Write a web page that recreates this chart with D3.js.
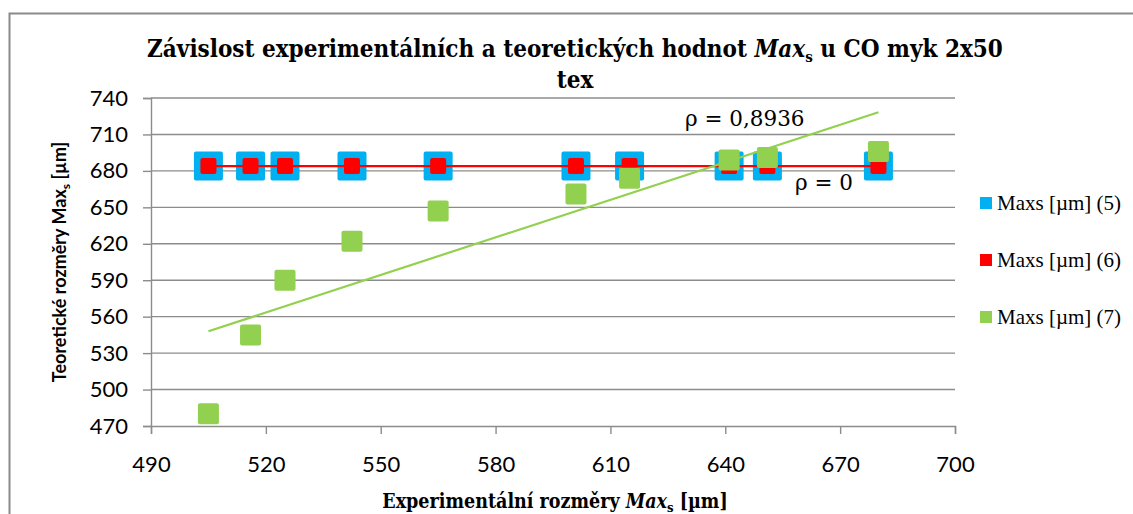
<!DOCTYPE html>
<html>
<head>
<meta charset="utf-8">
<script src="https://cdn.jsdelivr.net/npm/d3@7"></script>
<style>
  html, body { margin: 0; padding: 0; background: #fff; }
  svg { display: block; }
</style>
</head>
<body>
<svg id="chart" width="1133" height="514"></svg>
<script>
// Experimental Max_s values (x) shared by all three series
const experimental = [505, 516, 525, 542.5, 565, 601, 615, 641, 651, 680];
// Theoretical Max_s values for each model
const series5 = [684, 684, 684, 684, 684, 684, 684, 684, 684, 684];
const series6 = [684, 684, 684, 684, 684, 684, 684, 684, 684, 684];
const series7 = [480, 545, 590, 622, 647, 661, 674, 689, 691, 696];
const seriesNames = ["Maxs [µm] (5)", "Maxs [µm] (6)", "Maxs [µm] (7)"];
const xTicks = [490, 520, 550, 580, 610, 640, 670, 700];
const yTicks = [470, 500, 530, 560, 590, 620, 650, 680, 710, 740];
const rhoLabels = ["ρ = 0,8936", "ρ = 0"];

const colors = ["#00B0F0", "#FF0000", "#92D050"];
const svg = d3.select("#chart");

const plot = { left: 151, right: 955, top: 98, bottom: 426 };
const x = d3.scaleLinear().domain([490, 700]).range([plot.left, plot.right]);
const y = d3.scaleLinear().domain([470, 740]).range([plot.bottom, plot.top]);

// chart frame
svg.append("rect")
  .attr("x", 9.5).attr("y", 13.5).attr("width", 1200).attr("height", 600)
  .attr("fill", "#fff").attr("stroke", "#8a8a8a").attr("stroke-width", 2);

// horizontal gridlines
svg.append("g").selectAll("line").data(yTicks.slice(1)).join("line")
  .attr("x1", plot.left).attr("x2", plot.right)
  .attr("y1", d => y(d)).attr("y2", d => y(d))
  .attr("stroke", "#8c8c8c").attr("stroke-width", 1.4);

// axes
const tickFont = "Lato, 'Open Sans', sans-serif";
const xAxis = svg.append("g").attr("transform", `translate(0,${plot.bottom})`)
  .call(d3.axisBottom(x).tickValues(xTicks).tickSize(8).tickPadding(22).tickFormat(d3.format("d")));
const yAxis = svg.append("g").attr("transform", `translate(${plot.left},0)`)
  .call(d3.axisLeft(y).tickValues(yTicks).tickSize(8).tickPadding(15).tickFormat(d3.format("d")));
[xAxis, yAxis].forEach(a => {
  a.select(".domain").attr("stroke", "#8c8c8c").attr("stroke-width", 1.4);
  a.selectAll(".tick line").attr("stroke", "#8c8c8c").attr("stroke-width", 1.4);
  a.selectAll(".tick text").attr("fill", "#000").attr("font-family", tickFont).attr("font-size", 22);
});

// markers
const pts = (vals) => experimental.map((e, i) => ({ x: e, y: vals[i] }));
function squares(data, size, color) {
  svg.append("g").selectAll("rect").data(data).join("rect")
    .attr("x", d => x(d.x) - size / 2).attr("y", d => y(d.y) - size / 2)
    .attr("width", size).attr("height", size).attr("rx", 2)
    .attr("fill", color);
}
squares(pts(series5), 29, colors[0]);
squares(pts(series6), 16, colors[1]);

// linear trendlines
function fit(vals) {
  const mx = d3.mean(experimental), my = d3.mean(vals);
  let sxy = 0, sxx = 0;
  experimental.forEach((e, i) => { sxy += (e - mx) * (vals[i] - my); sxx += (e - mx) ** 2; });
  const b = sxy / sxx, a = my - b * mx;
  const x0 = d3.min(experimental), x1 = d3.max(experimental);
  return [{ x: x0, y: a + b * x0 }, { x: x1, y: a + b * x1 }];
}
const line = d3.line().x(d => x(d.x)).y(d => y(d.y));
svg.append("path").datum(fit(series6)).attr("d", line)
  .attr("fill", "none").attr("stroke", colors[1]).attr("stroke-width", 2.2);

squares(pts(series7), 21, colors[2]);

svg.append("path").datum(fit(series7)).attr("d", line)
  .attr("fill", "none").attr("stroke", colors[2]).attr("stroke-width", 2.2);

// correlation labels
const serif = "'DejaVu Serif', serif";
svg.append("text").attr("x", 685).attr("y", 126).text(rhoLabels[0])
  .attr("font-family", serif).attr("font-size", 21.5).attr("fill", "#000");
svg.append("text").attr("x", 795).attr("y", 190).text(rhoLabels[1])
  .attr("font-family", serif).attr("font-size", 21.5).attr("fill", "#000");

// title
const title = svg.append("text").attr("text-anchor", "middle")
  .attr("font-family", "'DejaVu Serif Condensed', 'DejaVu Serif', serif")
  .attr("font-weight", "bold").attr("font-size", 24).attr("fill", "#000");
const t1 = title.append("tspan").attr("x", 575).attr("y", 57);
t1.append("tspan").text("Závislost experimentálních a teoretických hodnot ");
t1.append("tspan").attr("font-style", "italic").text("Max");
t1.append("tspan").attr("font-size", 15).attr("dy", 5).text("s");
t1.append("tspan").attr("dy", -5).text(" u CO myk 2x50");
title.append("tspan").attr("x", 575).attr("y", 88).text("tex");

// axis titles
const xt = svg.append("text").attr("text-anchor", "middle").attr("x", 555).attr("y", 508)
  .attr("font-family", "'DejaVu Serif Condensed', 'DejaVu Serif', serif")
  .attr("font-weight", "bold").attr("font-size", 19.5).attr("fill", "#000");
xt.append("tspan").text("Experimentální rozměry ");
xt.append("tspan").attr("font-style", "italic").text("Max");
xt.append("tspan").attr("font-size", 13).attr("dy", 4).text("s");
xt.append("tspan").attr("dy", -4).text(" [µm]");

const yt = svg.append("text").attr("text-anchor", "middle")
  .attr("transform", "translate(66,262) rotate(-90)")
  .attr("font-family", "Lato, 'Open Sans', sans-serif")
  .attr("font-weight", "bold").attr("font-size", 18).attr("fill", "#000");
yt.append("tspan").text("Teoretické rozměry Max");
yt.append("tspan").attr("font-size", 12).attr("dy", 4).text("s");
yt.append("tspan").attr("dy", -4).text(" [µm]");

// legend
const legendY = [203, 260, 317];
const lg = svg.append("g").selectAll("g").data(seriesNames).join("g")
  .attr("transform", (d, i) => `translate(980,${legendY[i]})`);
lg.append("rect").attr("x", 0).attr("y", -6).attr("width", 12).attr("height", 12)
  .attr("fill", (d, i) => colors[i]);
lg.append("text").attr("x", 17).attr("y", 7).text(d => d)
  .attr("font-family", "'Liberation Serif', serif").attr("font-size", 21).attr("fill", "#000");
</script>
</body>
</html>
